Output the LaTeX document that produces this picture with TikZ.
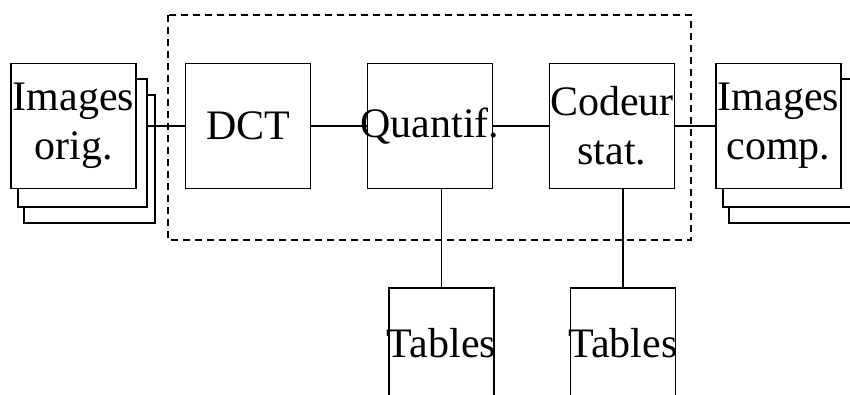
\documentclass[tikz,border=0pt]{standalone}
\usepackage{fontspec}
\setmainfont{Liberation Serif}
\begin{document}
\begin{tikzpicture}[x=1pt, y=-1pt, line width=1.9pt,
    blk/.style={draw, minimum width=125pt, minimum height=125pt, inner sep=0pt},
    lbl/.style={font=\fontsize{42}{49}\selectfont, align=center, inner sep=0pt}]
    \useasboundingbox (0,0) rectangle (850,394);
    \clip (0,0) rectangle (850,394);
    % Stacked input images
    \draw (137,79)--(147,79)--(147,207)--(18,207)--(18,189);
    \draw (147,95)--(155,95)--(155,223)--(24,223)--(24,207);
    \node[blk, fill=white] (orig) at (73.5,126) {};
    \node[lbl] at (orig.center) {Images\\orig.};
    \coordinate (origout) at (147,126);
    % Coder blocks
    \node[blk] (dct) at (248,126) {};
    \node[lbl] at (dct.center) {DCT};
    \node[blk] (quant) at (430,126) {};
    \node[lbl] at (quant.center) {Quantif.};
    \node[blk] (codeur) at (612,126) {};
    \node[lbl] at (codeur.center) {Codeur\\stat.};
    % Stacked output images
    \draw (842,79)--(856,79)--(856,207)--(723,207)--(723,189);
    \draw (856,95)--(864,95)--(864,223)--(729,223)--(729,207);
    \node[blk, fill=white] (comp) at (778.5,126) {};
    \node[lbl] at (comp.center) {Images\\comp.};
    % Tables
    \node[blk, minimum width=105pt, minimum height=160pt, anchor=north] (tabq) at (441.5,287) {};
    \node[lbl] at (441.5,343) {Tables};
    \node[blk, minimum width=105pt, minimum height=160pt, anchor=north] (tabc) at (623,287) {};
    \node[lbl] at (623,343) {Tables};
    % Dashed frame
    \draw[line width=1.5pt, dash pattern=on 7pt off 5pt] (168,15) rectangle (691,240);
    % Connections
    \draw (origout) -- (dct.west);
    \draw (dct.east) -- (quant.west);
    \draw (quant.east) -- (codeur.west);
    \draw (codeur.east) -- (comp.west);
    \draw (tabq.north) -- (tabq.north |- quant.south);
    \draw (tabc.north) -- (tabc.north |- codeur.south);
\end{tikzpicture}
\end{document}
